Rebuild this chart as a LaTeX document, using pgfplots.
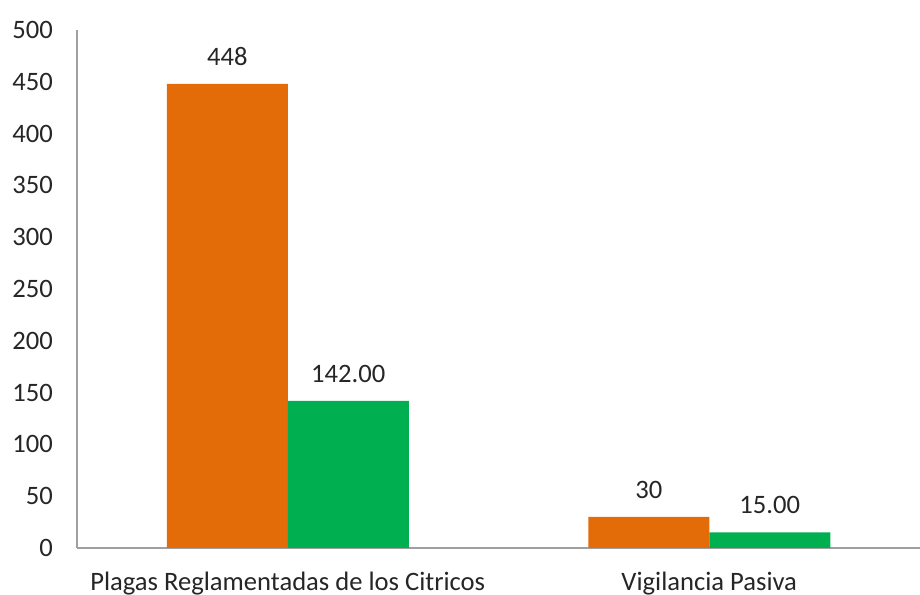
\documentclass[border=0pt]{standalone}
\usepackage{pgfplots}
\pgfplotsset{compat=1.18}
\usepackage{fontspec}
\setmainfont{Carlito}
\definecolor{naranja}{HTML}{E36C09}
\definecolor{verde}{HTML}{00B050}
\definecolor{ejegris}{HTML}{A0A0A0}
\definecolor{texto}{HTML}{262626}

\begin{document}
\fontsize{13.3}{16}\selectfont
\begin{tikzpicture}
\begin{axis}[
    scale only axis,
    width=421.5pt, height=259pt,
    xmin=-0.5, xmax=1.5,
    ymin=0, ymax=500,
    ybar,
    bar width=60.5pt,
    axis lines=left,
    axis line style={-, draw=ejegris, line width=0.75pt},
    major tick length=0pt,
    ytick={0,50,...,500},
    xtick={0,1},
    xticklabels={Plagas Reglamentadas de los Citricos, Vigilancia Pasiva},
    /pgf/number format/assume math mode=true,
    tick label style={font=\fontsize{13.3}{16}\selectfont, text=texto},
    yticklabel style={xshift=-7.5pt},
    xticklabel style={yshift=-7.5pt},
    nodes near coords style={font=\fontsize{13.3}{16}\selectfont, text=texto, yshift=4.5pt},
]
% programa (naranja)
\addplot[fill=naranja, draw=none, bar shift=-30.25pt,
    nodes near coords={\pgfmathprintnumber[fixed,precision=0]{\pgfplotspointmeta}}]
    coordinates {(0,448) (1,30)};
% segundo valor (verde)
\addplot[fill=verde, draw=none, bar shift=30.25pt,
    nodes near coords={\pgfmathprintnumber[fixed,fixed zerofill,precision=2]{\pgfplotspointmeta}}]
    coordinates {(0,142) (1,15)};
\coordinate (sw) at (rel axis cs:0,0);
\coordinate (ne) at (rel axis cs:1,1);
\end{axis}
\pgfresetboundingbox
\path[use as bounding box] ([shift={(-38.5pt,-23.5pt)}]sw) rectangle ([shift={(0pt,15pt)}]ne);
\end{tikzpicture}
\end{document}
